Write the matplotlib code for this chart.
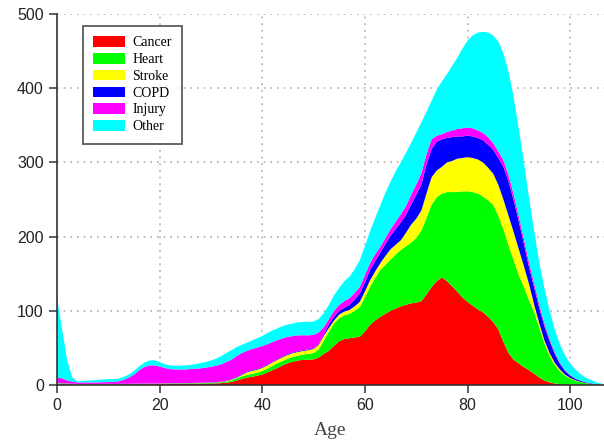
import numpy as np
import matplotlib
matplotlib.use("Agg")
import matplotlib.pyplot as plt

# age in years, 0..106
ages = np.arange(0, 107)

# cumulative tops of the stacked layers
# (cancer, +heart, +stroke, +copd, +injury, +other)
cancer_top = [1, 1, 0.8, 0.7, 0.7, 0.7, 0.7, 0.7, 0.7, 0.7,
              0.8, 0.8, 0.8, 0.9, 0.9, 1, 1, 1, 1.1, 1.1,
              1.2, 1.2, 1.3, 1.4, 1.5, 1.5, 1.6, 1.7, 1.8, 1.9,
              2, 2.2, 2.5, 3, 4, 6, 8, 10, 11, 12.5,
              14, 17, 20, 23, 26.5, 29.5, 31.5, 33, 34, 34,
              34.5, 37, 42, 46, 53, 59, 62, 63, 64, 65,
              72, 81, 87, 92, 96, 100, 103, 106, 108, 110,
              111, 113, 122, 132, 140, 145, 140, 133, 126, 118,
              112, 107, 102, 98, 92, 85, 75, 58, 43, 34,
              29, 24, 20, 15, 10, 6, 3.5, 2, 1.2, 0.8,
              0.5, 0.3, 0.2, 0.1, 0.1, 0, 0]
heart_top = [2, 1.8, 1.5, 1.2, 1.1, 1.1, 1.1, 1.1, 1.1, 1.1,
             1.2, 1.2, 1.2, 1.3, 1.3, 1.4, 1.5, 1.5, 1.6, 1.6,
             1.7, 1.8, 1.9, 2, 2.1, 2.2, 2.3, 2.4, 2.6, 2.8,
             3, 3.3, 3.7, 4.5, 6, 9, 11.5, 13.5, 15, 16.5,
             19, 22, 26, 29.5, 32.5, 35.5, 38, 39.5, 41, 42,
             43, 48, 60, 72, 83, 90, 94, 96, 100, 105,
             118, 132, 144, 155, 162, 169, 176, 182, 187, 192,
             198, 208, 225, 243, 253, 258, 260, 260, 260, 261,
             261, 260, 258, 254, 249, 243, 228, 210, 188, 168,
             148, 132, 114, 98, 77, 56, 39, 27, 18.5, 12.5,
             8.5, 5.8, 3.8, 2.5, 1.5, 0.9, 0.5]
stroke_top = [2.5, 2.2, 1.8, 1.5, 1.3, 1.3, 1.3, 1.3, 1.3, 1.3,
              1.4, 1.4, 1.4, 1.5, 1.5, 1.6, 1.7, 1.7, 1.8, 1.8,
              1.9, 2, 2.1, 2.2, 2.3, 2.4, 2.5, 2.6, 2.8, 3,
              3.3, 3.6, 4.1, 5.2, 7, 10, 13.5, 17, 19, 20.5,
              23, 26.5, 30.5, 34, 37.5, 40.5, 43, 44.5, 46, 47,
              48.5, 54, 66, 77, 87, 95, 99, 101, 106, 112,
              126, 141, 153, 164, 174, 183, 189, 195, 205, 216,
              224, 235, 258, 280, 289, 294, 300, 302, 305, 306,
              307, 306, 304, 300, 293, 285, 270, 250, 228, 206,
              183, 160, 136, 108, 83, 60, 43, 30, 21, 14,
              9.5, 6.5, 4.2, 2.8, 1.7, 1, 0.6]
copd_top = [3, 2.6, 2.1, 1.8, 1.5, 1.5, 1.5, 1.5, 1.5, 1.5,
            1.6, 1.6, 1.6, 1.7, 1.7, 1.8, 1.9, 1.9, 2, 2,
            2.1, 2.2, 2.3, 2.4, 2.5, 2.6, 2.7, 2.8, 3, 3.3,
            3.6, 4, 4.5, 5.7, 7.6, 11, 14.5, 18, 20, 21.5,
            24, 27.5, 31.5, 35, 38.5, 41.5, 44, 45.5, 47, 48,
            49.5, 55, 68, 82, 92, 100, 104, 108, 115, 123,
            138, 155, 167, 178, 190, 201, 210, 219, 229, 243,
            256, 270, 297, 318, 328, 331, 333, 334, 335, 335,
            336, 335, 333, 330, 324, 317, 306, 294, 274, 249,
            220, 190, 158, 131, 103, 79, 59, 42, 28.5, 19,
            12.8, 8.5, 5.6, 3.7, 2.3, 1.4, 0.8]
injury_top = [10, 9, 6, 4.5, 3.5, 3.5, 3.5, 3.5, 3.6, 3.8,
              4, 4.3, 5, 7, 10, 14, 20, 24, 26.5, 26.5,
              25, 23, 21.5, 21, 21, 21, 21.5, 22, 22.5, 23.5,
              24.5, 26, 28, 31, 34, 39, 43, 46, 48.5, 50.5,
              52.5, 55, 58, 60.5, 63, 65, 66, 67, 67, 67,
              67.5, 71, 78, 89, 100, 108, 113, 117, 124, 132,
              148, 164, 176, 186, 198, 210, 220, 230, 241, 256,
              270, 285, 311, 331, 336, 338, 341, 343, 345, 346,
              347, 346, 343, 340, 334, 326, 315, 303, 283, 257,
              227, 197, 165, 137, 108, 83, 62, 44, 30, 20,
              13.5, 9, 6, 4, 2.5, 1.5, 0.9]
other_top = [118, 75, 33, 10, 5, 5.5, 6, 6.5, 7, 7.5,
             7.8, 8, 8.5, 11, 14, 19, 25, 30, 33, 33.5,
             31, 28, 26.5, 26, 26, 26.5, 27, 28, 29.5, 31,
             33, 35.5, 39, 43, 47, 51, 54, 57, 60, 63,
             66, 70, 73.5, 76.5, 79.5, 81.5, 83, 84.5, 85, 85,
             85.5, 89, 97, 108, 121, 131, 140, 146, 156, 168,
             187, 207, 225, 242, 259, 274, 288, 300, 313, 326,
             340, 354, 368, 383, 398, 409, 419, 430, 441, 453,
             464, 471, 475, 476, 475, 471, 463, 447, 422, 388,
             345, 300, 252, 207, 165, 130, 100, 75, 55, 40,
             29, 21, 15, 10, 7, 4, 2]

labels = ['Cancer', 'Heart', 'Stroke', 'COPD', 'Injury', 'Other']
colors = ['#ff0000', '#00ff00', '#ffff00', '#0000ff', '#ff00ff', '#00ffff']

tops = np.array([cancer_top, heart_top, stroke_top, copd_top, injury_top, other_top])
layers = np.diff(np.vstack([np.zeros(len(ages)), tops]), axis=0)

fig = plt.figure(figsize=(6.04, 4.43), dpi=100)
ax = fig.add_axes([57 / 604, 58 / 443, 547 / 604, 371 / 443])

ax.stackplot(ages, layers, labels=labels, colors=colors, linewidth=0, zorder=2)

ax.set_xlim(0, 106.6)
ax.set_ylim(0, 500)
ax.set_xticks([0, 20, 40, 60, 80, 100])
ax.set_yticks([0, 100, 200, 300, 400, 500])
ax.grid(True, color='#b0b0b0', linestyle=(0, (1, 3)), linewidth=1.2, zorder=0)
ax.set_axisbelow(True)

for s in ['top', 'right']:
    ax.spines[s].set_visible(False)
for s in ['left', 'bottom']:
    ax.spines[s].set_color('#333333')
    ax.spines[s].set_linewidth(1.2)
ax.tick_params(direction='out', length=6, width=1.1, color='#333333',
               labelsize=11.5, labelcolor='#222222')
for lab in ax.get_xticklabels() + ax.get_yticklabels():
    lab.set_family('Liberation Sans')

ax.set_xlabel('Age', family='Liberation Serif', fontsize=14, color='#444444', labelpad=6)

leg = ax.legend(loc='upper left', bbox_to_anchor=(0.0475, 0.968), ncol=1,
                prop={'family': 'Liberation Serif', 'size': 10},
                handlelength=2.3, handleheight=0.8, labelspacing=0.26,
                fancybox=False, frameon=True, borderpad=0.75, handletextpad=0.5,
                borderaxespad=0)
leg.get_frame().set_edgecolor('#333333')
leg.get_frame().set_linewidth(1.3)

fig.savefig('out.png', dpi=100)
